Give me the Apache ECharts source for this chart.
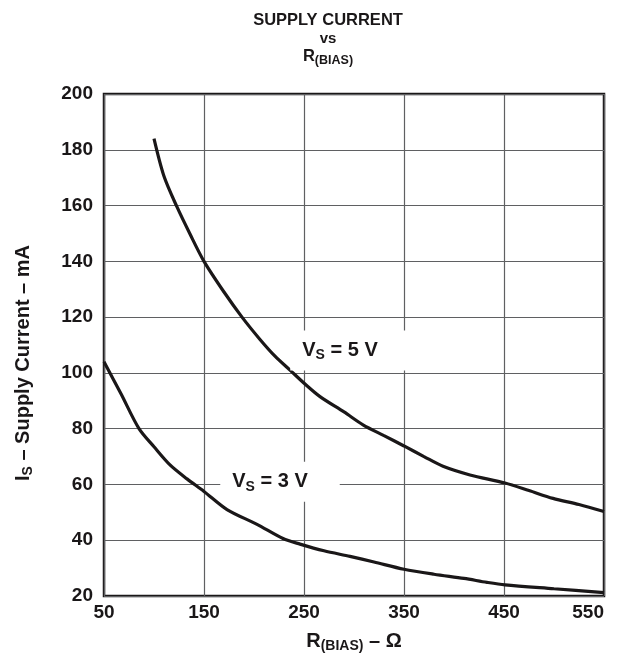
<!DOCTYPE html>
<html><head><meta charset="utf-8">
<script src="https://cdn.jsdelivr.net/npm/echarts@6/dist/echarts.min.js"></script>
<style>html,body{margin:0;padding:0;background:#fff}#c{width:629px;height:658px}</style>
</head><body><div id="c"></div>
<script>
// R(BIAS) in ohms vs supply current in mA
const vs5 = [[100,184],[110,170.5],[123,159.5],[136,149.8],[150,140],[170,129],[188,120],[206,112],[221,106],[236,101],[251,96],[266,91.5],[290,86],[309,81.4],[330,77.5],[350,73.8],[370,70],[389,66.5],[416,63.4],[451,60.5],[475,57.8],[499,55],[525,52.8],[550,50.3]];
const vs3 = [[50,104],[67,92.5],[85,80],[100,73.5],[116,67],[133,62],[150,57.5],[173,51],[203,45.7],[229,40.6],[246,38.6],[270,36.2],[296,34.2],[320,32.2],[350,29.6],[380,27.8],[410,26.3],[433,24.9],[451,24],[500,22.6],[550,21.2]];
const xTicks = [50,150,250,350,450,550];
const yTicks = [20,40,60,80,100,120,140,160,180,200];
const curveLabels = [
  {name:'5', coord:[296,108]},
  {name:'3', coord:[226,61]}
];

const FONT = '"Liberation Sans", Arial, Helvetica, sans-serif';
const INK = '#1a1718';
const chart = echarts.init(document.getElementById('c'), null, {renderer:'canvas'});
const lblRich = {
  v:{fontSize:20,fontWeight:'bold',fontFamily:FONT,color:INK},
  s:{fontSize:14,fontWeight:'bold',fontFamily:FONT,color:INK,padding:[10,0,0,0]}
};
chart.setOption({
  backgroundColor:'#fff',
  animation:false,
  title:{
    text:'{a|SUPPLY CURRENT}\n{b|vs}\n{a|R}{s|(BIAS)}',
    left:323, top:6, textAlign:'center',
    textStyle:{
      rich:{
        a:{fontSize:16.5,fontWeight:'bold',fontFamily:FONT,color:INK,lineHeight:19,align:'center'},
        b:{fontSize:15,fontWeight:'bold',fontFamily:FONT,color:INK,lineHeight:17,align:'center'},
        s:{fontSize:12.5,fontWeight:'bold',fontFamily:FONT,color:INK,lineHeight:19,padding:[8,0,0,0]}
      }
    }
  },
  grid:{left:104,right:25,top:94,bottom:62,show:true,borderColor:INK,borderWidth:2.5,backgroundColor:'#fff'},
  xAxis:{
    type:'value',min:xTicks[0],max:xTicks[xTicks.length-1],interval:100,
    axisLine:{show:false},axisTick:{show:false},
    splitLine:{show:true,lineStyle:{color:'#5f6062',width:1.2}},
    axisLabel:{fontSize:19,fontWeight:'bold',fontFamily:FONT,color:INK,margin:7,alignMaxLabel:'right'},
    name:'{v|R}{s|(BIAS)}{v| – Ω}',nameLocation:'middle',nameGap:33,
    nameTextStyle:{rich:lblRich}
  },
  yAxis:{
    type:'value',min:yTicks[0],max:yTicks[yTicks.length-1],interval:20,
    axisLine:{show:false},axisTick:{show:false},
    splitLine:{show:true,lineStyle:{color:'#5f6062',width:1.2}},
    axisLabel:{fontSize:19,fontWeight:'bold',fontFamily:FONT,color:INK,margin:11},
    name:'{v|I}{s|S}{v| – Supply Current – mA}',nameLocation:'middle',nameGap:69,nameRotate:90,
    nameTextStyle:{rich:lblRich,padding:[0,36,0,0]}
  },
  series:[
    {type:'line',data:vs5,showSymbol:false,smooth:0.3,lineStyle:{color:INK,width:3.2},z:3},
    {type:'line',data:vs3,showSymbol:false,smooth:0.3,lineStyle:{color:INK,width:3.2},z:3},
    {type:'scatter',symbolSize:0,z:4,itemStyle:{opacity:1},
     data:curveLabels.map(d=>({value:d.coord,name:d.name})),
     label:{show:true,position:'inside',opacity:1,color:INK,
       formatter:p=>'{v|V}{s|S}{v| = '+p.name+' V}',
       backgroundColor:'#fff',padding:[8,32,8,12],
       rich:lblRich}
    }
  ]
});
</script></body></html>
